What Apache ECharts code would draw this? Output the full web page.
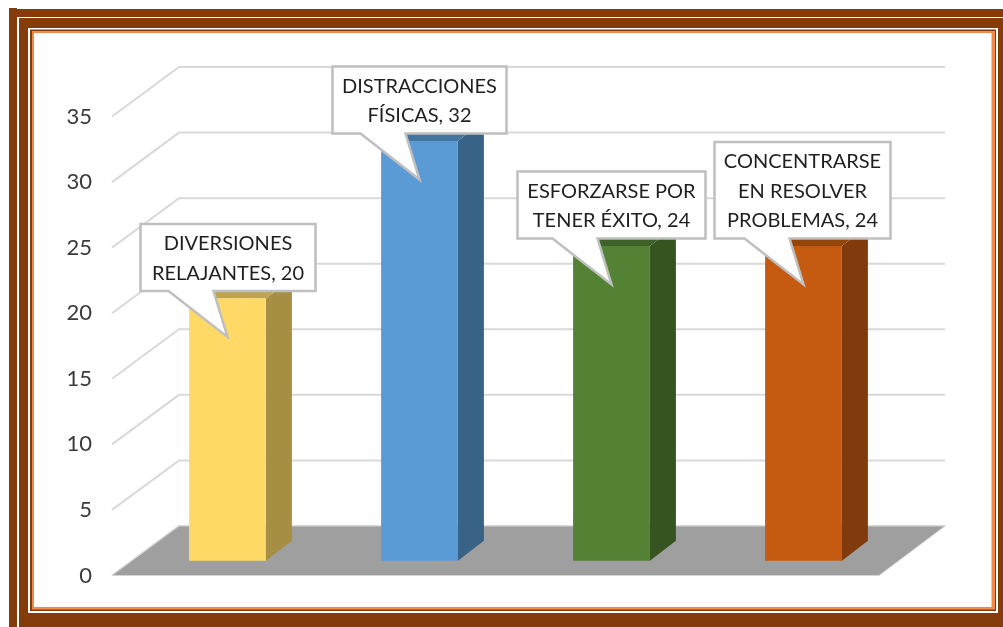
<!DOCTYPE html>
<html>
<head>
<meta charset="utf-8">
<style>
  html, body { margin: 0; padding: 0; background: #fff; }
  #chart { width: 1003px; height: 627px; }
</style>
<script src="https://cdn.jsdelivr.net/npm/echarts@6/dist/echarts.min.js"></script>
</head>
<body>
<div id="chart"></div>
<script>
// Chart values
const categories = ['DIVERSIONES\nRELAJANTES', 'DISTRACCIONES\nFÍSICAS', 'ESFORZARSE POR\nTENER ÉXITO', 'CONCENTRARSE\nEN RESOLVER\nPROBLEMAS'];
const values = [20, 32, 24, 24];
const yTicks = [0, 5, 10, 15, 20, 25, 30, 35];

// Face colours per bar: front, side, top
const frontColors = ['#FFD966', '#5B9BD5', '#548235', '#C55A11'];
const sideColors = ['#A68E42', '#386387', '#36541F', '#803A0B'];
const topColors = ['#BFA34D', '#44759F', '#3F6128', '#944509'];

// Horizontal extent of each callout box around its pointer tip
const calloutExtents = [[-87, 88], [-87, 87], [-94, 94], [-89, 87]];

// Fake 3D projection, in pixels
const WALL_DX = 67, WALL_DY = -49.5;
const BAR_SHIFT_X = 19.5, BAR_SHIFT_Y = -14.8;
const BAR_DX = 26, BAR_DY = -20;
const BAR_RATIO = 0.4;
const TIP_BELOW_TOP = 38.5;
const TAIL_GAP = 46;
const LINE_HEIGHT = 29.5;
const FONT = 'Lato, Carlito, "Open Sans", sans-serif';

const poly = (points, fill, extra) => ({
  type: 'polygon',
  shape: { points },
  style: Object.assign({ fill }, extra || {})
});

function renderGridLine(params, api) {
  const cs = params.coordSys;
  const y = api.coord([0, api.value(1)])[1];
  return {
    type: 'polyline',
    shape: { points: [[cs.x, y], [cs.x + WALL_DX, y + WALL_DY], [cs.x + cs.width + WALL_DX - 2, y + WALL_DY]] },
    style: { fill: null, stroke: '#D9D9D9', lineWidth: 2 }
  };
}

function renderFloor(params, api) {
  const cs = params.coordSys;
  const y = api.coord([0, api.value(1)])[1];
  return poly([
    [cs.x, y],
    [cs.x + cs.width - 1, y],
    [cs.x + cs.width + WALL_DX - 2, y + WALL_DY],
    [cs.x + WALL_DX, y + WALL_DY]
  ], '#9F9F9F', { stroke: '#D4D4D4', lineWidth: 1 });
}

function renderBar(params, api) {
  const i = params.dataIndex;
  const band = api.size([1, 0])[0];
  const w = band * BAR_RATIO;
  const c = api.coord([api.value(0), api.value(1)]);
  const base = api.coord([api.value(0), 0]);
  const l = c[0] + BAR_SHIFT_X - w / 2, r = l + w;
  const t = c[1] + BAR_SHIFT_Y, b = base[1] + BAR_SHIFT_Y;
  return {
    type: 'group',
    children: [
      poly([[r, t], [r + BAR_DX, t + BAR_DY], [r + BAR_DX, b + BAR_DY], [r, b]], sideColors[i]),
      poly([[l, t], [l + BAR_DX, t + BAR_DY], [r + BAR_DX, t + BAR_DY], [r, t]], topColors[i]),
      poly([[l, t], [r, t], [r, b], [l, b]], frontColors[i])
    ]
  };
}

function renderCallout(params, api) {
  const i = params.dataIndex;
  const c = api.coord([api.value(0), api.value(1)]);
  const text = categories[i] + ', ' + values[i];
  const lines = text.split('\n').length;
  const tipX = c[0] + BAR_SHIFT_X;
  const tipY = c[1] + BAR_SHIFT_Y + TIP_BELOW_TOP;
  const bottom = tipY - TAIL_GAP;
  const top = bottom - (lines * LINE_HEIGHT + 8);
  const left = tipX + calloutExtents[i][0], right = tipX + calloutExtents[i][1];
  return {
    type: 'group',
    children: [
      poly([
        [left, top], [right, top], [right, bottom],
        [tipX - 14, bottom], [tipX, tipY], [tipX - 59, bottom],
        [left, bottom]
      ], '#FFFFFF', { stroke: '#BFBFBF', lineWidth: 2.5, lineJoin: 'miter' }),
      {
        type: 'text',
        style: {
          text,
          x: (left + right) / 2,
          y: (top + bottom) / 2 + 1,
          align: 'center',
          verticalAlign: 'middle',
          fontFamily: FONT,
          fontSize: 20,
          lineHeight: LINE_HEIGHT,
          fill: '#1F1F1F'
        }
      }
    ]
  };
}

// Nested frame bands, painted from the outside in
const frameBands = [
  [9, 8, 8, 1, '#843C0C'],
  [9, 9, 994, 618, '#843C0C'],
  [17, 17, 986, 610, '#FFFFFF'],
  [19, 18, 984, 609, '#843C0C'],
  [28, 28, 970, 585, '#FFFFFF'],
  [30, 29.5, 966, 581.5, '#843C0C'],
  [32, 31, 963, 578.5, '#F08A4B'],
  [34, 33, 957.5, 574, '#FFFFFF']
];

const chart = echarts.init(document.getElementById('chart'), null, { renderer: 'canvas' });
chart.setOption({
  animation: false,
  backgroundColor: '#FFFFFF',
  graphic: frameBands.map(([x, y, width, height, fill]) => ({
    type: 'rect', silent: true, z: -10,
    shape: { x, y, width, height },
    style: { fill }
  })),
  grid: { left: 112, right: 123, top: 116.5, bottom: 51.5 },
  xAxis: {
    type: 'category',
    data: categories,
    axisLine: { show: false },
    axisTick: { show: false },
    axisLabel: { show: false },
    splitLine: { show: false }
  },
  yAxis: {
    type: 'value',
    min: 0,
    max: 35,
    interval: 5,
    axisLine: { show: false },
    axisTick: { show: false },
    splitLine: { show: false },
    axisLabel: { margin: 20, color: '#3A3A3A', fontFamily: FONT, fontSize: 22, padding: [4, 0, 0, 0] }
  },
  series: [
    { type: 'custom', z: 2, silent: true, renderItem: renderGridLine, data: yTicks.map(t => [0, t]) },
    { type: 'custom', z: 3, silent: true, renderItem: renderFloor, data: [[0, 0]] },
    { type: 'custom', z: 4, silent: true, renderItem: renderBar, data: values.map((v, i) => [i, v]) },
    { type: 'custom', z: 5, silent: true, renderItem: renderCallout, data: values.map((v, i) => [i, v]) }
  ]
});
</script>
</body>
</html>
